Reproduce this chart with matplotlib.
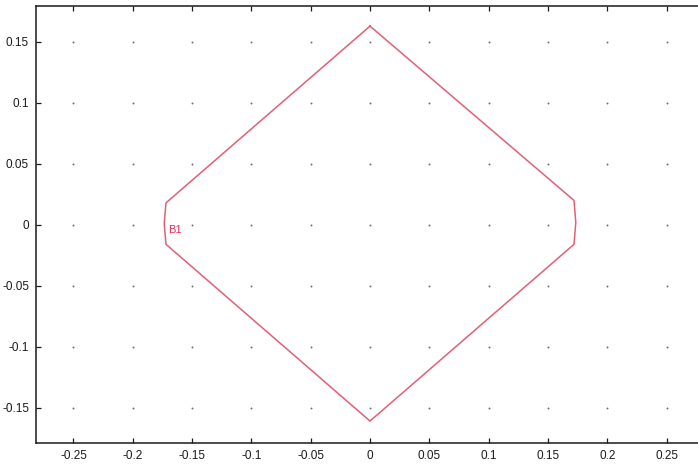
import numpy as np
import matplotlib
matplotlib.use("Agg")
import matplotlib.pyplot as plt

plt.rcParams["font.family"] = ["Liberation Sans", "DejaVu Sans"]

# boundary B1 vertices (x, y)
bx = [0.0, 0.172, 0.1735, 0.172, 0.0, -0.172, -0.1735, -0.172, 0.0]
by = [0.163, 0.020, 0.002, -0.016, -0.161, -0.016, 0.001, 0.018, 0.163]
label = "B1"
label_pos = (-0.170, -0.004)

xticks = [-0.25, -0.2, -0.15, -0.1, -0.05, 0, 0.05, 0.1, 0.15, 0.2, 0.25]
xlabels = ["-0.25", "-0.2", "-0.15", "-0.1", "-0.05", "0", "0.05", "0.1", "0.15", "0.2", "0.25"]
yticks = [-0.15, -0.1, -0.05, 0, 0.05, 0.1, 0.15]
ylabels = ["-0.15", "-0.1", "-0.05", "0", "0.05", "0.1", "0.15"]

fig = plt.figure(figsize=(6.98, 4.68), dpi=100)
# axes run past the right edge, as in the cropped original
ax = fig.add_axes([36 / 698, 25 / 468, 668 / 698, 437 / 468])

gx, gy = np.meshgrid(xticks, yticks)
ax.scatter(gx.ravel(), gy.ravel(), s=2.0, color="#707070", linewidths=0, zorder=1)

ax.plot(bx, by, color="#e35f78", lw=1.1, zorder=2)
ax.text(label_pos[0], label_pos[1], label, color="#e0305a", fontsize=8,
        ha="left", va="center")

ax.set_xlim(-0.2816, 0.2816)
ax.set_ylim(-0.179, 0.1795)
ax.set_xticks(xticks)
ax.set_xticklabels(xlabels)
ax.set_yticks(yticks)
ax.set_yticklabels(ylabels)
ax.tick_params(direction="in", top=True, right=False, length=3.5, width=0.9,
               labelsize=8.5, colors="#1a1a1a", pad=5)
for side in ["left", "bottom", "top"]:
    ax.spines[side].set_linewidth(1.1)
    ax.spines[side].set_color("#1a1a1a")
ax.spines["right"].set_visible(False)

fig.savefig("out.png", dpi=100)
